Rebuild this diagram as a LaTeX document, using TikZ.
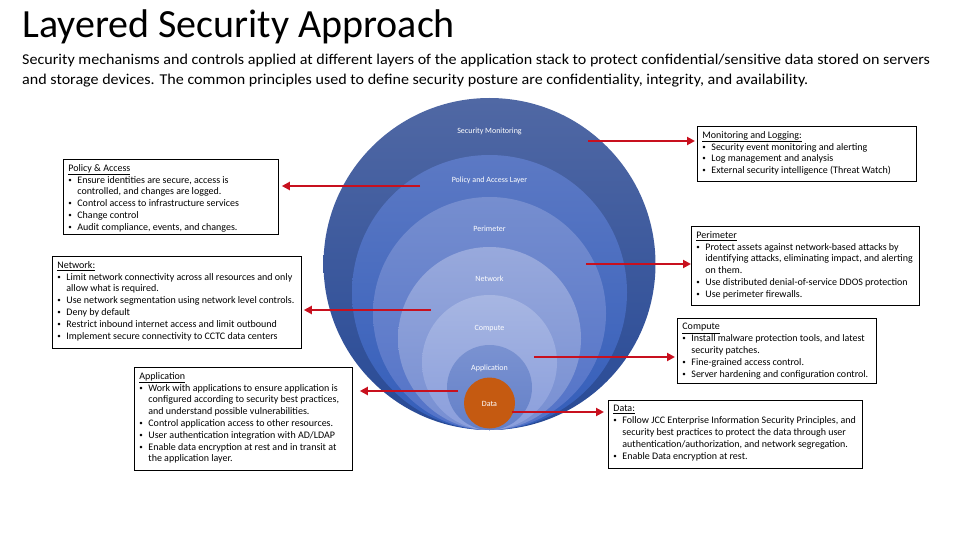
\documentclass[tikz,border=0pt]{standalone}
\usepackage{fontspec}
\setmainfont{Carlito}
\usetikzlibrary{arrows.meta}
\definecolor{arrowred}{RGB}{200,16,30}
\definecolor{monT}{RGB}{80,104,164}
\definecolor{monB}{RGB}{40,74,150}
\definecolor{polT}{RGB}{92,121,196}
\definecolor{polB}{RGB}{52,94,186}
\definecolor{perT}{RGB}{118,142,207}
\definecolor{perB}{RGB}{82,114,200}
\definecolor{netT}{RGB}{152,169,220}
\definecolor{netB}{RGB}{118,142,210}
\definecolor{cmpT}{RGB}{167,182,226}
\definecolor{cmpB}{RGB}{138,158,220}
\definecolor{appT}{RGB}{122,146,209}
\definecolor{appB}{RGB}{100,128,200}
\definecolor{dataC}{RGB}{197,90,17}
\newcommand{\smallbullet}{\raisebox{0.2ex}{\scalebox{0.7}{\textbullet}}}
\newcommand{\bitem}[1]{\par\hangindent=9pt\hangafter=1\makebox[9pt][l]{\smallbullet}#1}
\newcommand{\boxtext}[3]{\parbox[t][#2][t]{#1}{\makebox[#1][l]{\parbox[t]{\dimexpr#1+40pt\relax}{\raggedright #3}}}}
\tikzset{
  infobox/.style={draw=black, line width=0.8pt, fill=white, anchor=north west,
    inner xsep=5pt, inner ysep=5pt, font=\fontsize{10}{11.8}\selectfont},
  layer/.style={circle, draw=none, inner sep=0pt},
  layerlabel/.style={text=white, inner sep=0pt, font=\fontsize{8}{9}\selectfont},
  redarrow/.style={draw=arrowred, line width=2.4pt, -{Triangle[length=8pt,width=8pt]}},
  subline/.style={anchor=base west, inner sep=0pt, font=\fontsize{15}{20}\selectfont},
}
\begin{document}
\begin{tikzpicture}[x=1pt,y=-1pt]
\useasboundingbox (0,0) rectangle (960,540);

% title and subtitle
\node[anchor=base west, inner sep=0pt, font=\fontsize{40}{44}\selectfont] (title) at (22,38) {Layered Security Approach};
\node[subline] (sub1) at (22,65)
  {\scalebox{1.072}[1]{Security mechanisms and controls applied at different layers of the application stack to protect confidential/sensitive data stored on servers}};
\node[subline] (sub2) at (22,85)
  {\scalebox{1.072}[1]{and storage devices. The common principles used to define security posture are confidentiality, integrity, and availability.}};

% layered circles
\node[layer, minimum size=332pt, top color=monT, bottom color=monB] (c1) at (489.5,264) {};
\node[layer, minimum size=275pt, top color=polT, bottom color=polB] (c2) at (489.5,292.5) {};
\node[layer, minimum size=233pt, top color=perT, bottom color=perB] (c3) at (489.5,313.5) {};
\node[layer, minimum size=183pt, top color=netT, bottom color=netB] (c4) at (489.5,338.5) {};
\node[layer, minimum size=135pt, top color=cmpT, bottom color=cmpB] (c5) at (489.5,362.5) {};
\node[layer, minimum size=85pt, top color=appT, bottom color=appB] (c6) at (489.5,387.5) {};
\node[layer, minimum size=51pt, fill=dataC] (c7) at (489.5,403) {};

\node[layerlabel] (l1) at (489.5,131) {Security Monitoring};
\node[layerlabel] (l2) at (489.5,180) {Policy and Access Layer};
\node[layerlabel] (l3) at (489.5,229) {Perimeter};
\node[layerlabel] (l4) at (489.5,279) {Network};
\node[layerlabel] (l5) at (489.5,329) {Compute};
\node[layerlabel] (l6) at (489.5,368) {Application};
\node[layerlabel] (l7) at (489.5,404) {Data};

% info boxes
\node[infobox] (polbox) at (63,159) {\boxtext{205pt}{65pt}{%
\underline{Policy \& Access}
\bitem{Ensure identities are secure, access is\newline controlled, and changes are logged.}
\bitem{Control access to infrastructure services}
\bitem{Change control}
\bitem{Audit compliance, events, and changes.}}};

\node[infobox] (netbox) at (52,256) {\boxtext{239pt}{82pt}{%
\underline{Network:}
\bitem{Limit network connectivity across all resources and only\newline allow what is required.}
\bitem{Use network segmentation using network level controls.}
\bitem{Deny by default}
\bitem{Restrict inbound internet access and limit outbound}
\bitem{Implement secure connectivity to CCTC data centers}}};

\node[infobox] (appbox) at (134,367) {\boxtext{208pt}{93pt}{%
\underline{Application}
\bitem{Work with applications to ensure application is\newline configured according to security best practices,\newline and understand possible vulnerabilities.}
\bitem{Control application access to other resources.}
\bitem{User authentication integration with AD/LDAP}
\bitem{Enable data encryption at rest and in transit at\newline the application layer.}}};

\node[infobox] (monbox) at (697,126) {\boxtext{209pt}{45pt}{%
\underline{Monitoring and Logging:}
\bitem{Security event monitoring and alerting}
\bitem{Log management and analysis}
\bitem{External security intelligence (Threat Watch)}}};

\node[infobox] (perbox) at (691,226) {\boxtext{218pt}{69pt}{%
\underline{Perimeter}
\bitem{Protect assets against network-based attacks by\newline identifying attacks, eliminating impact, and alerting\newline on them.}
\bitem{Use distributed denial-of-service DDOS protection}
\bitem{Use perimeter firewalls.}}};

\node[infobox] (cmpbox) at (677,318) {\boxtext{189pt}{55pt}{%
\underline{Compute}
\bitem{Install malware protection tools, and latest\newline security patches.}
\bitem{Fine-grained access control.}
\bitem{Server hardening and configuration control.}}};

\node[infobox] (databox) at (608,400) {\boxtext{244pt}{58pt}{%
\underline{Data:}
\bitem{Follow JCC Enterprise Information Security Principles, and\newline security best practices to protect the data through user\newline authentication/authorization, and network segregation.}
\bitem{Enable Data encryption at rest.}}};

% arrows
\coordinate (smon) at (588,141);
\coordinate (spol) at (420,186);
\coordinate (sper) at (586,264);
\coordinate (snet) at (431,310);
\coordinate (scmp) at (534,357);
\coordinate (sapp) at (458,391);
\coordinate (sdat) at (512,412);

\draw[redarrow, shorten >=2pt] (smon) -- (smon -| monbox.west);
\draw[redarrow, shorten >=3pt] (spol) -- (spol -| polbox.east);
\draw[redarrow] (sper) -- (sper -| perbox.west);
\draw[redarrow, shorten >=2pt] (snet) -- (snet -| netbox.east);
\draw[redarrow, shorten >=2pt] (scmp) -- (scmp -| cmpbox.west);
\draw[redarrow, shorten >=7pt] (sapp) -- (sapp -| appbox.east);
\draw[redarrow, shorten >=4pt] (sdat) -- (sdat -| databox.west);
\end{tikzpicture}
\end{document}
